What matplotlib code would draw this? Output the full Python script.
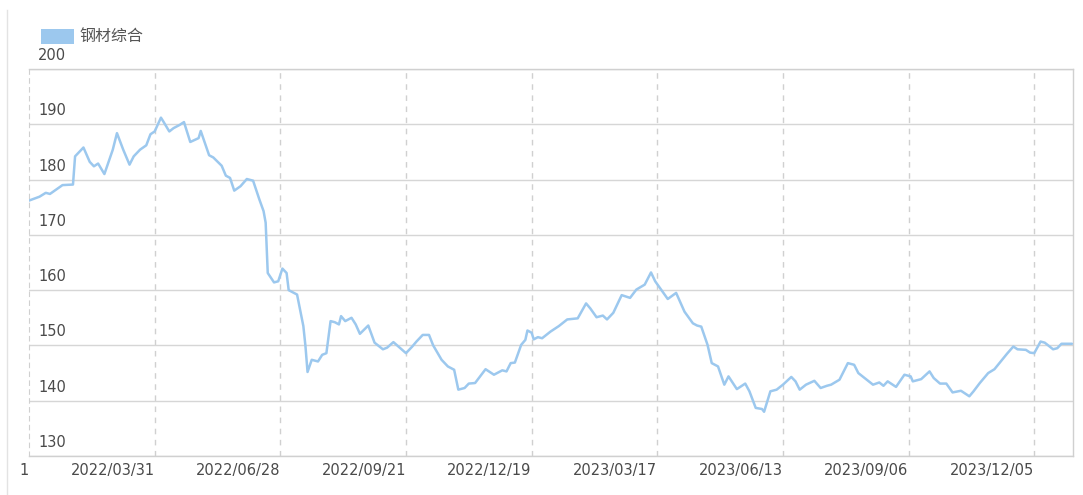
import matplotlib
matplotlib.use('Agg')
import matplotlib.pyplot as plt
from matplotlib.transforms import offset_copy, blended_transform_factory
from matplotlib.lines import Line2D
from matplotlib.patches import Rectangle

plt.rcParams['font.family'] = ['DejaVu Sans', 'Noto Sans CJK SC']

series_name = '钢材综合'

day_index = [0, 5, 8, 10, 16, 21, 22, 26, 29, 31, 33, 36, 40, 42, 45, 48, 50, 53, 56, 58,
             60, 63, 64, 67, 69, 72, 74, 77, 81, 82, 86, 88, 92, 94, 96, 98, 101, 104, 107, 110,
             112, 113, 114, 117, 119, 121, 123, 124, 128, 131, 132, 133, 135, 138, 140, 142, 144, 146, 148, 149,
             151, 154, 156, 158, 162, 165, 169, 171, 174, 177, 180, 183, 185, 188, 191, 193, 197, 200, 203, 205,
             208, 210, 213, 216, 218, 222, 226, 228, 230, 232, 235, 237, 238, 240, 241, 243, 245, 249, 253, 257,
             262, 266, 268, 271, 274, 276, 279, 283, 287, 290, 294, 297, 299, 302, 305, 309, 313, 317, 319, 321,
             324, 326, 329, 332, 334, 338, 342, 344, 347, 350, 351, 354, 357, 360, 364, 366, 368, 371, 375, 378,
             381, 383, 387, 391, 394, 396, 399, 403, 406, 408, 410, 414, 418, 421, 422, 426, 430, 432, 435, 438,
             441, 445, 449, 451, 454, 458, 461, 464, 467, 470, 472, 476, 478, 480, 483, 485, 489, 491, 493, 498]

price_index = [176.2, 176.9, 177.6, 177.4, 179.0, 179.1, 184.2, 185.8, 183.2, 182.4, 182.9, 181.0, 185.4, 188.4, 185.4, 182.7, 184.2, 185.4, 186.2, 188.2,
               188.7, 191.2, 190.6, 188.7, 189.3, 189.9, 190.4, 186.8, 187.5, 188.8, 184.4, 184.0, 182.5, 180.7, 180.3, 178.0, 178.8, 180.1, 179.8, 176.4,
               174.3, 172.2, 163.1, 161.4, 161.6, 163.9, 163.1, 160.0, 159.2, 153.5, 149.9, 145.2, 147.4, 147.1, 148.3, 148.6, 154.4, 154.2, 153.8, 155.3,
               154.4, 155.0, 153.8, 152.1, 153.6, 150.5, 149.3, 149.6, 150.6, 149.6, 148.6, 149.8, 150.7, 151.9, 151.9, 150.0, 147.4, 146.2, 145.6, 142.0,
               142.3, 143.1, 143.2, 144.7, 145.7, 144.7, 145.5, 145.3, 146.8, 146.9, 150.1, 151.0, 152.7, 152.3, 151.1, 151.5, 151.3, 152.5, 153.5, 154.7,
               154.9, 157.6, 156.7, 155.1, 155.4, 154.7, 155.9, 159.1, 158.6, 160.1, 161.0, 163.2, 161.6, 160.0, 158.4, 159.5, 156.1, 154.0, 153.6, 153.4,
               150.1, 146.8, 146.2, 142.9, 144.4, 142.1, 143.1, 141.7, 138.7, 138.5, 138.0, 141.7, 142.0, 142.9, 144.3, 143.5, 142.0, 142.9, 143.6, 142.3,
               142.7, 142.9, 143.8, 146.8, 146.5, 145.0, 144.1, 142.9, 143.3, 142.7, 143.5, 142.5, 144.7, 144.4, 143.5, 143.9, 145.3, 144.1, 143.1, 143.1,
               141.5, 141.8, 140.8, 141.7, 143.2, 145.0, 145.7, 147.1, 148.5, 149.8, 149.3, 149.2, 148.7, 148.6, 150.7, 150.5, 149.3, 149.5, 150.3, 150.3]

tick_index = [0, 60, 120, 180, 240, 300, 360, 420, 480]
tick_labels = ['1', '2022/03/31', '2022/06/28', '2022/09/21', '2022/12/19',
               '2023/03/17', '2023/06/13', '2023/09/06', '2023/12/05']
y_ticks = [130, 140, 150, 160, 170, 180, 190, 200]

W, H = 1083, 495
fig = plt.figure(figsize=(W / 100, H / 100), dpi=100)
ax = fig.add_axes([29 / W, 39 / H, 1044 / W, 387 / H])

line_color = '#9cc8ee'
ax.plot(day_index, price_index, color=line_color, lw=1.8,
        solid_joinstyle='round', solid_capstyle='round', zorder=3)
ax.set_xlim(0, 498.5)
ax.set_ylim(130, 200)

ax.set_yticks(y_ticks)
ax.set_yticklabels([])
ax.tick_params(axis='y', length=0)
ax.grid(axis='y', color='#d6d6d6', lw=1)
for t in tick_index[1:]:
    ax.axvline(t, color='#d0d0d0', lw=1, ls=(0, (4, 4)), zorder=1)

ax.set_xticks(tick_index, tick_labels)
ax.tick_params(axis='x', length=0, pad=5, labelsize=10.5, labelcolor='#4a4a4a')
for lbl in ax.get_xticklabels():
    lbl.set_ha('right')

for side in ['top', 'right', 'bottom']:
    ax.spines[side].set_color('#d0d0d0')
    ax.spines[side].set_linewidth(1)
ax.spines['left'].set_color('#d0d0d0')
ax.spines['left'].set_linestyle((0, (4, 4)))

tr = blended_transform_factory(ax.transAxes, ax.transData)
tr_off = offset_copy(tr, fig=fig, x=0, y=9, units='dots')
for v in y_ticks:
    ax.text(9 / 1044, v, str(v), transform=tr_off, ha='left', va='baseline',
            fontsize=10.5, color='#4a4a4a', clip_on=False)

# legend
fig.patches.append(Rectangle((41 / W, 1 - 43.5 / H), 33 / W, 15 / H,
                             transform=fig.transFigure, facecolor=line_color,
                             edgecolor='none'))
fig.text(79 / W, 1 - 36 / H, series_name, ha='left', va='center',
         fontsize=11.5, color='#555555', family=['Noto Sans CJK SC', 'DejaVu Sans'])

fig.add_artist(Line2D([7 / W, 7 / W], [0, 1 - 10 / H], color='#e3e3e3', lw=1))

fig.savefig('out.png', dpi=100)
